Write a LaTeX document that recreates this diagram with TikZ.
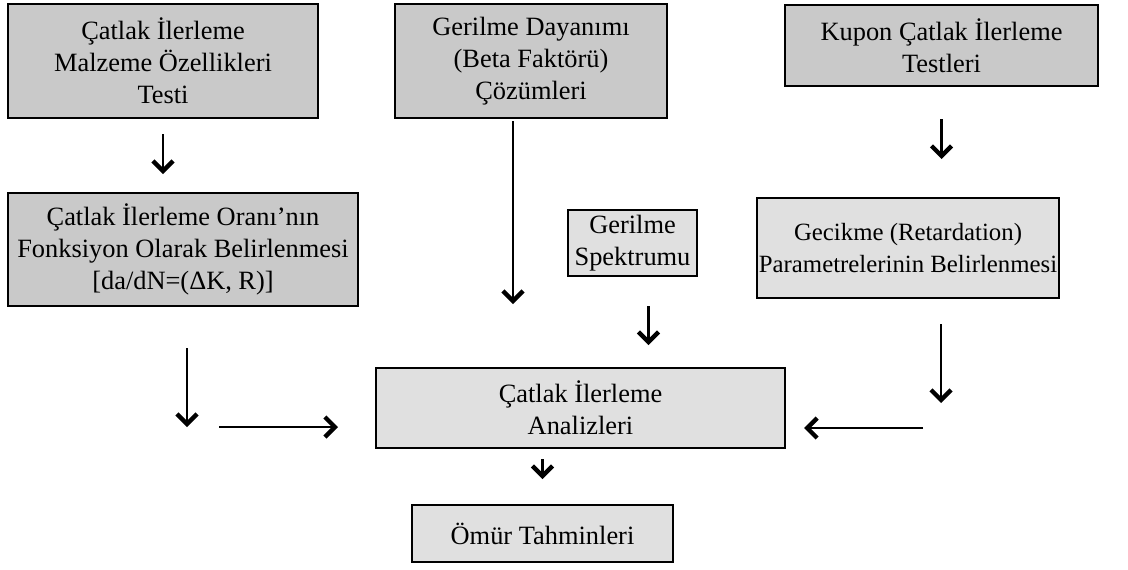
\documentclass[tikz,border=0pt]{standalone}
\usepackage{fontspec}
\setmainfont{Liberation Serif}
\usepackage{tikz}
\usetikzlibrary{arrows.meta, positioning, calc}
\tikzset{
  akisbox/.style={draw, line width=1pt, align=center, inner sep=1pt, font=\fontsize{13.2}{16}\selectfont},
  koyubox/.style={akisbox, fill=gray!42},
  acikbox/.style={akisbox, fill=gray!24},
  farrow/.style={-{Straight Barb[length=5pt, width=10pt, line width=2.2pt]}, line width=1.3pt},
}

\begin{document}
\begin{tikzpicture}[x=0.5pt, y=-0.5pt]
  \useasboundingbox (0,0) rectangle (1128,569);
  % ust sira
  \node[koyubox, minimum width=155pt, minimum height=57pt] (malz) at (163,61) {Çatlak İlerleme\\Malzeme Özellikleri\\Testi};
  \node[koyubox, minimum width=136pt, minimum height=57pt] (beta) at (531,61) {Gerilme Dayanımı\\(Beta Faktörü)\\Çözümleri};
  \node[koyubox, minimum width=156.5pt, minimum height=40.5pt] (kupon) at (941.5,45.5) {Kupon Çatlak İlerleme\\Testleri};
  % orta sira
  \node[koyubox, minimum width=175pt, minimum height=56.5pt] (oran) at (183,249.5) {Çatlak İlerleme Oranı'nın\\Fonksiyon Olarak Belirlenmesi\\{}[da/dN=(ΔK, R)]};
  \node[acikbox, minimum width=64.5pt, minimum height=33pt] (spek) at (632.5,243) {Gerilme\\Spektrumu};
  \node[acikbox, minimum width=150pt, minimum height=50pt, font=\fontsize{12.4}{16}\selectfont] (gecik) at (908,248) {Gecikme (Retardation)\\Parametrelerinin Belirlenmesi};
  % alt sira
  \node[acikbox, minimum width=204.5pt, minimum height=40pt] (analiz) at (580.5,408) {Çatlak İlerleme\\Analizleri};
  \node[acikbox, minimum width=130.5pt, minimum height=28.5pt] (omur) at (542.5,533.5) {Ömür Tahminleri};

  \coordinate (lmid) at (219,427);
  \coordinate (rmid) at (923,428);

  \draw[farrow, shorten <=7.5pt, shorten >=9pt] (malz.south) -- (malz.south |- oran.north);
  \draw[farrow, shorten <=16pt, shorten >=19pt] (kupon.south) -- (kupon.south |- gecik.north);
  \draw[farrow, shorten <=1pt, shorten >=31.5pt] ([xshift=-9pt]beta.south) -- ([xshift=-9pt]beta.south |- analiz.north);
  \draw[farrow, shorten <=14.5pt, shorten >=11pt] ([xshift=8pt]spek.south) -- ([xshift=8pt]spek.south |- analiz.north);
  \draw[farrow, shorten <=20.5pt] ([xshift=2pt]oran.south) -- ([xshift=2pt]oran.south |- lmid);
  \draw[farrow, shorten >=18.5pt] (lmid) -- (lmid -| analiz.west);
  \draw[farrow, shorten <=12.5pt, shorten >=12.5pt] ([xshift=16.5pt]gecik.south) -- ([xshift=16.5pt]gecik.south |- rmid);
  \draw[farrow, shorten >=9pt] (rmid) -- (rmid -| analiz.east);
  \draw[farrow, shorten <=5pt, shorten >=12.5pt] (omur.north |- analiz.south) -- (omur.north);
\end{tikzpicture}
\end{document}
